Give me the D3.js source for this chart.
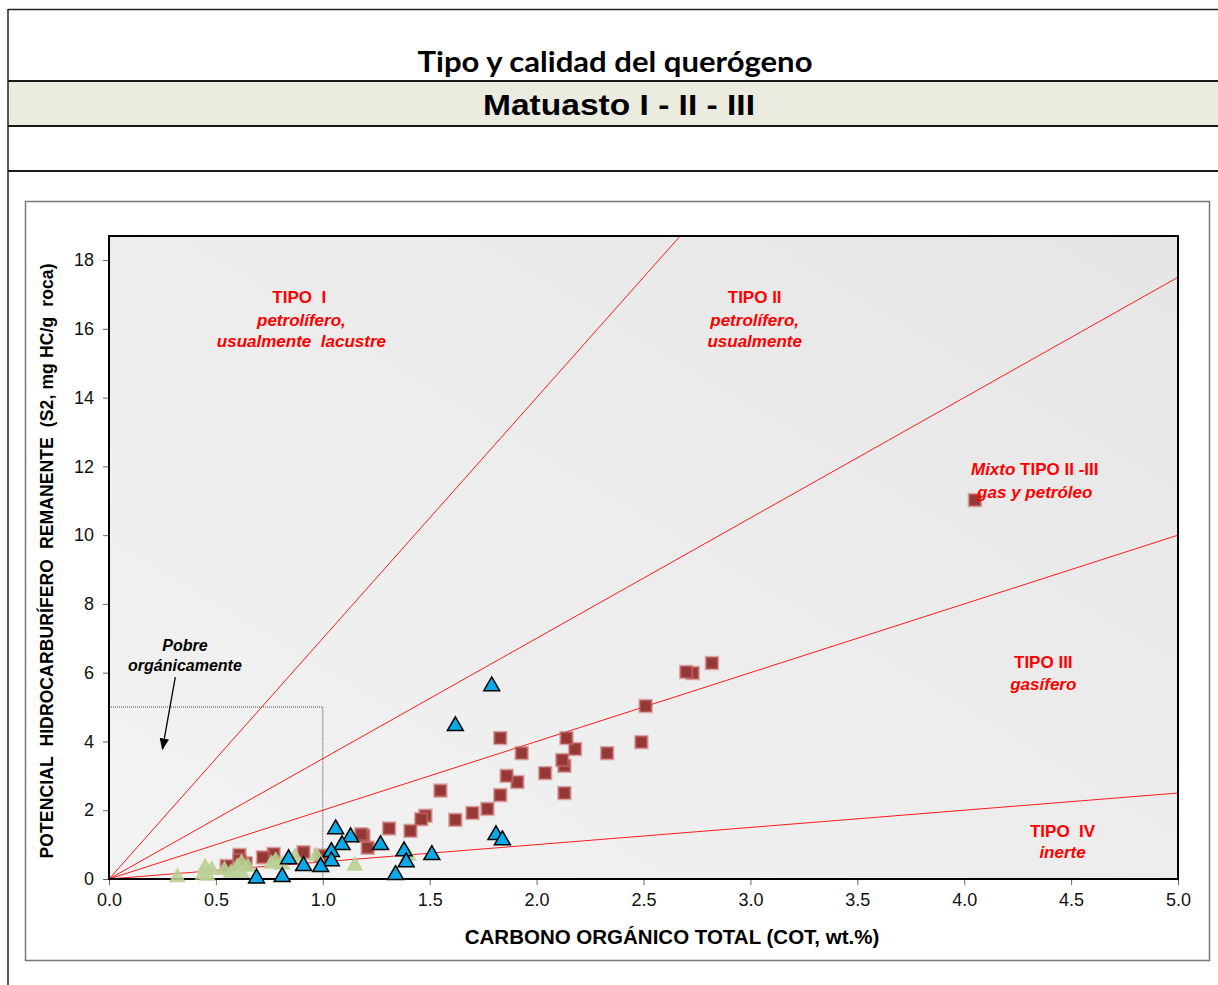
<!DOCTYPE html>
<html>
<head>
<meta charset="utf-8">
<script src="https://cdn.jsdelivr.net/npm/d3@7"></script>
<style>
    body { margin: 0; background: #fff; }
    text { font-family: "Liberation Sans", Arial, sans-serif; }
    .tick text { font-size: 18px; fill: #111; }
    .tick line { stroke: #666; }
</style>
</head>
<body>
<svg id="chart" width="1218" height="985"></svg>
<script>

// datos (COT wt.%, S2 mg HC/g roca)
const cuadrados_cot = [4.05, 2.82, 2.73, 2.70, 2.51, 2.49, 2.33, 2.18, 2.14, 2.13, 2.12, 2.13, 2.04, 1.93, 1.91, 1.86, 1.83, 1.83, 1.77, 1.70, 1.62, 1.55, 1.48, 1.46, 1.41, 1.31, 1.21, 1.19, 1.18, 0.99, 0.91, 0.77, 0.72, 0.64, 0.61, 0.61, 0.55];
const cuadrados_s2  = [11.02, 6.28, 5.99, 6.02, 5.03, 3.98, 3.66, 3.78, 4.10, 3.29, 3.46, 2.50, 3.08, 3.66, 2.82, 3.00, 4.10, 2.44, 2.04, 1.92, 1.72, 2.57, 1.84, 1.74, 1.40, 1.47, 0.91, 1.26, 1.30, 0.68, 0.78, 0.73, 0.63, 0.46, 0.70, 0.55, 0.38];

const azules_cot = [1.79, 1.62, 1.81, 1.84, 1.06, 1.13, 1.09, 1.27, 1.04, 1.38, 1.51, 1.04, 1.39, 0.84, 0.91, 0.99, 0.69, 0.81, 1.34];
const azules_s2  = [5.61, 4.45, 1.28, 1.13, 1.45, 1.22, 0.99, 0.99, 0.79, 0.81, 0.70, 0.52, 0.49, 0.58, 0.38, 0.35, 0.02, 0.06, 0.12];

const verdes_cot = [0.32, 0.45, 0.48, 0.44, 0.46, 0.54, 0.57, 0.60, 0.62, 0.65, 0.62, 0.76, 0.78, 0.81, 0.87, 0.97, 1.15, 1.40];
const verdes_s2  = [0.05, 0.33, 0.26, 0.12, 0.09, 0.26, 0.17, 0.35, 0.46, 0.35, 0.17, 0.44, 0.52, 0.41, 0.63, 0.67, 0.38, 0.67];

// pendientes de las rectas limite (IH / 100)
const limites = [7, 3.5, 2, 0.5];

const x_ticks = [0, 0.5, 1, 1.5, 2, 2.5, 3, 3.5, 4, 4.5, 5];
const y_ticks = [0, 2, 4, 6, 8, 10, 12, 14, 16, 18];

const margin = {top: 236, right: 40, bottom: 106, left: 109},
    width = 1218 - margin.left - margin.right,
    height = 985 - margin.top - margin.bottom;

const svg = d3.select("#chart");

// ---------- encabezado ----------
svg.append("line").attr("x1", 8).attr("x2", 8).attr("y1", 9).attr("y2", 985)
    .attr("stroke", "#222").attr("stroke-width", 1.5);
svg.append("line").attr("x1", 8).attr("x2", 1218).attr("y1", 9.5).attr("y2", 9.5)
    .attr("stroke", "#222").attr("stroke-width", 1.5);

svg.append("rect").attr("x", 9).attr("y", 81).attr("width", 1209).attr("height", 45)
    .attr("fill", "#ecebe0");
[81, 126, 171].forEach(function (yy) {
    svg.append("line").attr("x1", 8).attr("x2", 1218).attr("y1", yy).attr("y2", yy)
        .attr("stroke", "#1a1a1a").attr("stroke-width", 2);
});

svg.append("text")
    .attr("x", 615).attr("y", 72)
    .attr("text-anchor", "middle")
    .attr("textLength", 395).attr("lengthAdjust", "spacingAndGlyphs")
    .style("font-family", "Lato, 'Open Sans', sans-serif")
    .style("font-size", "28px").style("font-weight", "bold")
    .text("Tipo y calidad del querógeno");

svg.append("text")
    .attr("x", 619).attr("y", 115)
    .attr("text-anchor", "middle")
    .attr("textLength", 272).attr("lengthAdjust", "spacingAndGlyphs")
    .style("font-size", "30px").style("font-weight", "bold")
    .text("Matuasto I - II - III");

// marco del grafico
svg.append("rect").attr("x", 25.5).attr("y", 201.5).attr("width", 1184).attr("height", 759)
    .attr("fill", "none").attr("stroke", "#777").attr("stroke-width", 1.5);

// ---------- area de trazado ----------
const defs = svg.append("defs");
const grad = defs.append("linearGradient").attr("id", "fondo")
    .attr("x1", "100%").attr("y1", "0%").attr("x2", "0%").attr("y2", "100%");
grad.append("stop").attr("offset", "0%").attr("stop-color", "#e6e6e6");
grad.append("stop").attr("offset", "100%").attr("stop-color", "#f3f3f3");

defs.append("clipPath").attr("id", "clip")
    .append("rect").attr("width", width).attr("height", height);

defs.append("marker").attr("id", "flecha")
    .attr("viewBox", "0 0 10 10").attr("refX", 9).attr("refY", 5)
    .attr("markerWidth", 9).attr("markerHeight", 9).attr("orient", "auto")
    .append("path").attr("d", "M0,1 L10,5 L0,9 Z").attr("fill", "#000");

const g = svg.append("g")
    .attr("transform", "translate(" + margin.left + "," + margin.top + ")");

const xScale = d3.scaleLinear().domain([0, 5]).range([0, width]);
const yScale = d3.scaleLinear().domain([0, 18.7]).range([height, 0]);

g.append("rect").attr("width", width).attr("height", height).attr("fill", "url(#fondo)");

// ejes
g.append("g")
    .attr("class", "x-axis")
    .attr("transform", "translate(0," + height + ")")
    .call(d3.axisBottom(xScale).tickValues(x_ticks).tickSize(6).tickPadding(8)
        .tickFormat(d3.format(".1f")))
    .call(function (a) { a.select(".domain").remove(); });

g.append("g")
    .attr("class", "y-axis")
    .call(d3.axisLeft(yScale).tickValues(y_ticks).tickSize(6).tickPadding(9))
    .call(function (a) { a.select(".domain").remove(); });

// zona pobre organicamente
g.append("rect")
    .attr("x", xScale(0)).attr("y", yScale(5))
    .attr("width", xScale(1) - xScale(0)).attr("height", yScale(0) - yScale(5))
    .attr("fill", "none").attr("stroke", "#444").attr("stroke-width", 1)
    .attr("stroke-dasharray", "1,1");

// rectas de tipo de querogeno
g.append("g").attr("clip-path", "url(#clip)")
    .selectAll(".limite")
    .data(limites)
    .enter().append("line")
    .attr("class", "limite")
    .attr("x1", xScale(0)).attr("y1", yScale(0))
    .attr("x2", xScale(5)).attr("y2", function (d) { return yScale(5 * d); })
    .attr("stroke", "#ff1a1a").attr("stroke-width", 1);

// marco negro del area
g.append("rect").attr("width", width).attr("height", height)
    .attr("fill", "none").attr("stroke", "#000").attr("stroke-width", 2);

// ---------- puntos ----------
const cuadrados = cuadrados_cot.map(function (d, i) { return {x: d, y: cuadrados_s2[i]}; });
const azules = azules_cot.map(function (d, i) { return {x: d, y: azules_s2[i]}; });
const verdes = verdes_cot.map(function (d, i) { return {x: d, y: verdes_s2[i]}; });

g.selectAll(".cuadrado")
    .data(cuadrados)
    .enter().append("rect")
    .attr("class", "cuadrado")
    .attr("x", function (d) { return xScale(d.x) - 6; })
    .attr("y", function (d) { return yScale(d.y) - 6; })
    .attr("width", 12).attr("height", 12)
    .attr("fill", "#953735")
    .attr("stroke", "rgba(200,110,110,0.55)").attr("stroke-width", 2.5);

const triangulo = d3.symbol().type(d3.symbolTriangle).size(110);
const triangulo_verde = d3.symbol().type(d3.symbolTriangle).size(125);

g.selectAll(".verde")
    .data(verdes)
    .enter().append("path")
    .attr("class", "verde")
    .attr("d", triangulo_verde)
    .attr("transform", function (d) { return "translate(" + xScale(d.x) + "," + yScale(d.y) + ")"; })
    .attr("fill", "#b9cf94").attr("fill-opacity", 0.9);

g.selectAll(".azul")
    .data(azules)
    .enter().append("path")
    .attr("class", "azul")
    .attr("d", triangulo)
    .attr("transform", function (d) { return "translate(" + xScale(d.x) + "," + yScale(d.y) + ")"; })
    .attr("fill", "#0aa9e8").attr("stroke", "#000").attr("stroke-width", 1.5);

// ---------- textos ----------
const rojo = "#ff0000";
function etiqueta(x, y, txt, italic, color, size) {
    g.append("text")
        .attr("x", xScale(x)).attr("y", yScale(y))
        .attr("text-anchor", "middle").attr("dominant-baseline", "central")
        .style("white-space", "pre")
        .style("font-size", (size || 17) + "px").style("font-weight", "bold")
        .style("font-style", italic ? "italic" : "normal")
        .attr("fill", color || rojo)
        .text(txt);
}

etiqueta(0.89, 16.9, "TIPO  I", false);
etiqueta(0.90, 16.25, "petrolífero,", true);
etiqueta(0.90, 15.64, "usualmente  lacustre", true);

etiqueta(3.02, 16.9, "TIPO II", false);
etiqueta(3.02, 16.25, "petrolífero,", true);
etiqueta(3.02, 15.64, "usualmente", true);

const mixto = g.append("text")
    .attr("x", xScale(4.33)).attr("y", yScale(11.92))
    .attr("text-anchor", "middle").attr("dominant-baseline", "central")
    .style("font-size", "17px").style("font-weight", "bold")
    .attr("fill", rojo);
mixto.append("tspan").style("font-style", "italic").text("Mixto ");
mixto.append("tspan").text("TIPO II -III");
etiqueta(4.33, 11.25, "gas y petróleo", true);

etiqueta(4.37, 6.31, "TIPO III", false);
etiqueta(4.37, 5.67, "gasífero", true);

etiqueta(4.46, 1.37, "TIPO  IV", false);
etiqueta(4.46, 0.76, "inerte", true);

etiqueta(0.355, 6.80, "Pobre", true, "#000", 16);
etiqueta(0.355, 6.22, "orgánicamente", true, "#000", 16);

g.append("line")
    .attr("x1", xScale(0.31)).attr("y1", yScale(5.87))
    .attr("x2", xScale(0.25)).attr("y2", yScale(3.78))
    .attr("stroke", "#000").attr("stroke-width", 1.3)
    .attr("marker-end", "url(#flecha)");

// titulos de ejes
svg.append("text")
    .attr("x", 672).attr("y", 944)
    .attr("text-anchor", "middle")
    .style("font-size", "20.5px").style("font-weight", "bold")
    .text("CARBONO ORGÁNICO TOTAL (COT, wt.%)");

svg.append("text")
    .attr("transform", "translate(53,561) rotate(-90)")
    .attr("text-anchor", "middle")
    .attr("textLength", 595).attr("lengthAdjust", "spacing")
    .style("white-space", "pre")
    .style("font-size", "17.5px").style("font-weight", "bold")
    .text("POTENCIAL  HIDROCARBURÍFERO  REMANENTE  (S2, mg HC/g  roca)");

</script>
</body>
</html>
